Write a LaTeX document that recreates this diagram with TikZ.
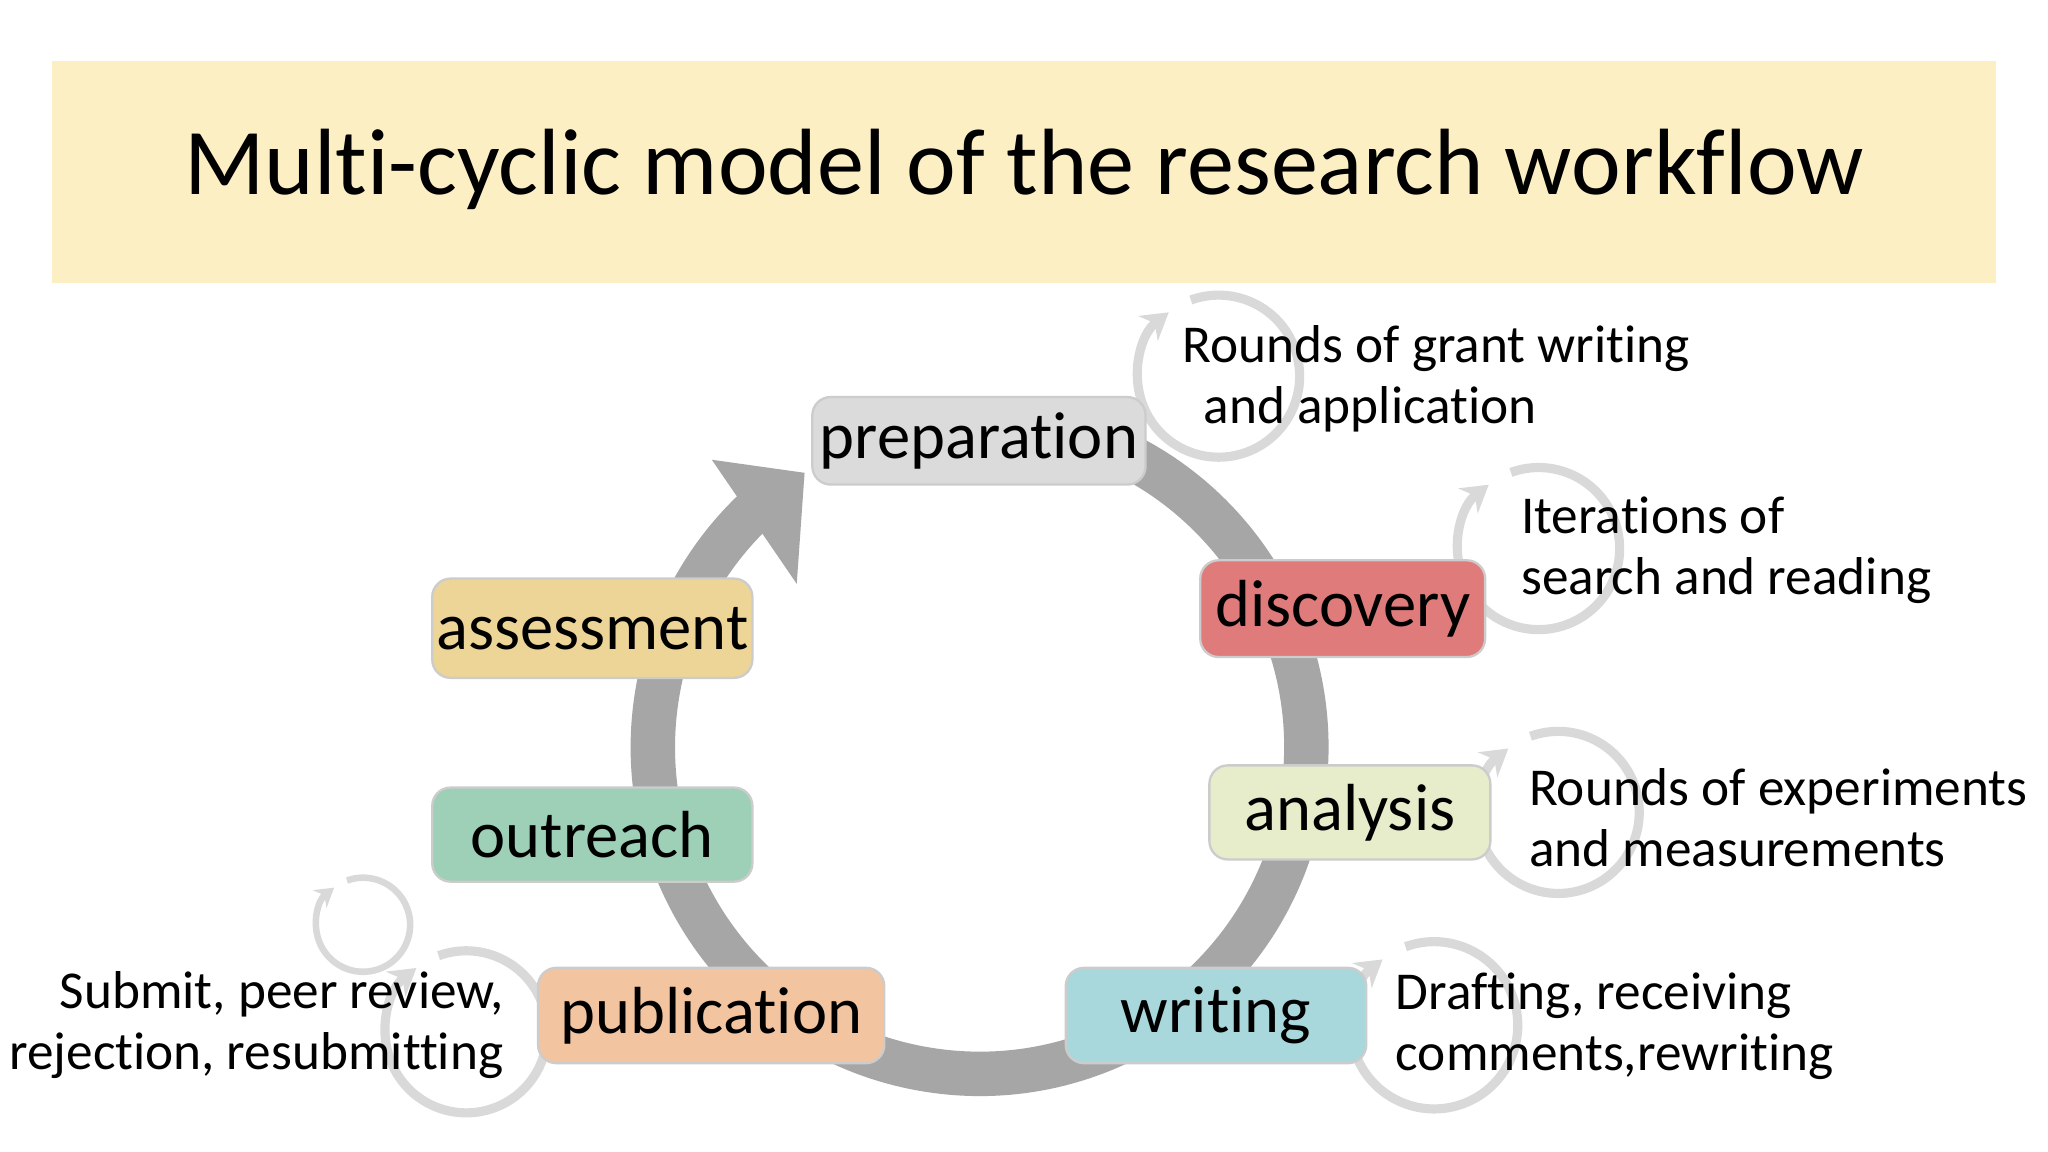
\documentclass[tikz,border=0pt]{standalone}
\usepackage{fontspec}
\setmainfont{Carlito}[Ligatures=NoCommon]
\usetikzlibrary{arrows.meta}
\definecolor{band}{HTML}{FCEFC4}
\definecolor{ring}{HTML}{A6A6A6}
\definecolor{sring}{HTML}{D9D9D9}
\tikzset{
  stage/.style={rounded corners=4pt,draw=white!80!black,line width=0.5pt,font=\fontsize{14.5}{17}\selectfont,inner sep=0pt},
  small/.style={draw=sring,line width=0.07cm,-{Stealth[length=0.2cm,width=0.24cm]}},
  note/.style={font=\fontsize{11.6}{13.3}\selectfont,align=left,anchor=west,inner sep=0pt},
}
\begin{document}
\begin{tikzpicture}[x=0.01cm,y=-0.01cm]
\useasboundingbox[fill=white] (0,0) rectangle (1568,882);
\fill[band] (40,47) rectangle (1528,217);
\node[font=\fontsize{20.5}{24}\selectfont] (title) at (784,130) {Multi-cyclic model of the research workflow};
% big ring
\draw[ring,line width=0.34cm] (750,572) ++(80:2.5cm) arc[start angle=80,end angle=-226,radius=2.5cm];
\fill[ring] (616,362) -- (545,352) -- (610,447) -- cycle;
% small cycles
\draw[small] (933,288) ++(110:0.62cm) arc[start angle=470,end angle=128,radius=0.62cm];
\draw[small] (1178,420) ++(110:0.62cm) arc[start angle=470,end angle=128,radius=0.62cm];
\draw[small] (1193,622) ++(110:0.62cm) arc[start angle=470,end angle=128,radius=0.62cm];
\draw[small] (1098,785) ++(110:0.64cm) arc[start angle=470,end angle=128,radius=0.64cm];
\draw[small] (357,790) ++(110:0.62cm) arc[start angle=470,end angle=128,radius=0.62cm];
\draw[small,line width=0.05cm,-{Stealth[length=0.14cm,width=0.17cm]}] (278,708) ++(110:0.36cm) arc[start angle=470,end angle=128,radius=0.36cm];
% stages
\node[stage,fill=white!86!black,minimum width=2.55cm,minimum height=0.67cm] (prep) at (749.5,337.5) {preparation};
\node[stage,fill={rgb,255:red,224;green,123;blue,123},minimum width=2.18cm,minimum height=0.74cm] (disc) at (1028,466) {discovery};
\node[stage,fill={rgb,255:red,231;green,236;blue,202},minimum width=2.15cm,minimum height=0.72cm] (anal) at (1033.5,622) {analysis};
\node[stage,fill={rgb,255:red,168;green,216;blue,220},minimum width=2.30cm,minimum height=0.73cm] (writ) at (931,777.5) {writing};
\node[stage,fill={rgb,255:red,242;green,196;blue,160},minimum width=2.65cm,minimum height=0.73cm] (pub) at (544.5,777.5) {publication};
\node[stage,fill={rgb,255:red,157;green,208;blue,182},minimum width=2.45cm,minimum height=0.72cm] (out) at (453.5,639) {outreach};
\node[stage,fill={rgb,255:red,237;green,213;blue,152},minimum width=2.45cm,minimum height=0.76cm] (ass) at (453.5,481) {assessment};
% notes
\node[note] (n1) at (905,290) {Rounds of grant writing\\\ \,and application};
\node[note] (n2) at (1164,421) {Iterations of\\search and reading};
\node[note] (n3) at (1170,626) {Rounds of experiments\\and measurements};
\node[note] (n4) at (1068,786) {Drafting, receiving\\comments,rewriting};
\node[note,anchor=east,align=right] (n5) at (386,785) {Submit, peer review,\\rejection, resubmitting};
\end{tikzpicture}
\end{document}
